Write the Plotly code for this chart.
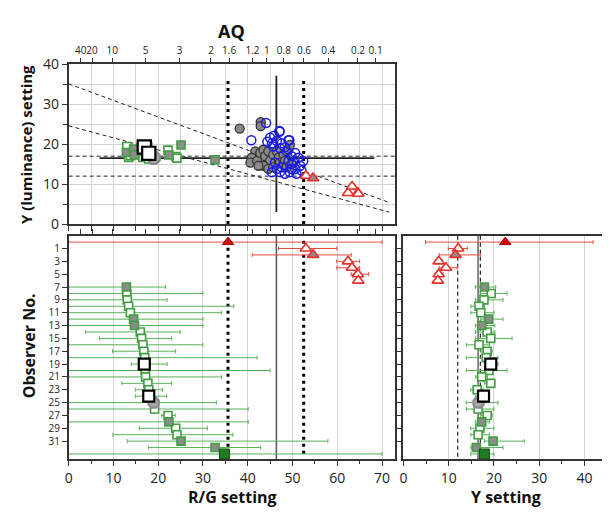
import plotly.graph_objects as go

W, H = 610, 515

# ---------------- data ----------------
# Protan-like observers (rows 1-6): R/G setting and Y setting with ranges
red_rows = [1, 2, 3, 4, 5, 6]
red_style = ["r", "rg", "r", "r", "r", "r"]
red_rg = [53.0, 54.6, 62.4, 63.3, 64.6, 64.7]
red_rg_lo = [46.9, 41.0, 59.9, 59.9, 63.1, 64.0]
red_rg_hi = [59.9, 63.1, 65.0, 65.0, 67.0, 65.4]
red_y = [12.1, 11.5, 7.8, 9.4, 7.8, 7.6]
red_y_lo = [9.9, 7.9, 7.0, 7.9, 7.0, 7.0]
red_y_hi = [14.1, 17.0, 8.6, 11.9, 8.8, 8.2]

# Deutan-like observers (rows 7-32)
green_rows = list(range(7, 33))
green_style = ["gg", "g", "g", "g", "g", "gg", "gg", "g", "g", "g", "g", "g", "k",
               "g", "g", "g", "g", "k", "c", "g", "g", "gg", "g", "g", "gg", "gg"]
green_rg = [12.9, 13.0, 13.1, 13.4, 13.8, 14.5, 14.7, 16.0, 16.3, 16.6, 16.8, 17.0, 16.9,
            17.1, 17.2, 17.7, 17.9, 17.9, 19.0, 19.2, 22.2, 22.4, 23.9, 24.2, 25.1, 32.7]
green_rg_lo = [0, 0, 0, 0, 0, 0, 0, 3.8, 6.9, 0, 9.8, 0, 14.0,
               0, 0, 11.9, 14.9, 14.9, 0, 0, 20.8, 0, 15.8, 9.9, 13.1, 17.8]
green_rg_hi = [21.6, 30.0, 22.0, 36.9, 34.1, 30.0, 30.0, 24.9, 23.0, 30.0, 23.9, 42.1, 22.0,
               45.0, 34.1, 23.0, 21.0, 21.9, 33.0, 40.1, 23.8, 40.1, 31.0, 36.7, 57.9, 42.9]
green_y = [17.9, 19.4, 17.8, 16.7, 17.1, 18.8, 17.3, 18.5, 19.3, 16.7, 18.5, 18.3, 19.3,
           18.9, 17.3, 19.3, 16.3, 17.7, 16.6, 16.5, 18.5, 17.3, 16.9, 16.5, 19.8, 16.1]
green_y_lo = [15.9, 17.0, 15.9, 14.9, 14.9, 17.1, 15.9, 15.9, 15.9, 13.9, 17.1, 13.9, 17.9,
              13.9, 16.0, 17.9, 14.9, 15.9, 13.9, 13.9, 17.1, 15.9, 14.9, 14.9, 17.9, 14.9]
green_y_hi = [20.4, 22.9, 22.0, 17.9, 20.0, 22.0, 20.2, 20.2, 24.0, 19.0, 19.6, 20.9, 20.9,
              22.9, 18.6, 20.2, 17.6, 18.6, 20.9, 20.0, 19.6, 19.0, 20.0, 19.0, 26.7, 22.0]

# Group means (row 0 = red group, row 33 = green group)
mean_rows = [0, 33]
mean_rg = [35.6, 34.8]
mean_rg_lo = [0.0, 0.0]
mean_rg_hi = [70.0, 70.0]
mean_y = [22.5, 17.9]
mean_y_lo = [4.9, 14.9]
mean_y_hi = [41.9, 20.0]

# Normal observers (top panel)
grey_rg = [38.2, 42.9, 42.9, 41.7, 40.9, 40.6, 42.1, 42.8, 43.5, 43.9, 44.6, 45.0, 45.7,
           46.5, 46.9, 47.2, 48.0, 48.3, 48.7, 49.1, 49.4, 49.8, 43.5, 44.6, 45.7, 42.4]
grey_y = [23.9, 25.5, 24.5, 18.2, 16.6, 15.4, 15.8, 17.8, 18.6, 17.0, 18.2, 15.8, 17.4,
          18.2, 16.6, 15.4, 17.4, 15.8, 14.2, 18.6, 19.8, 15.0, 14.6, 13.8, 14.2, 14.6]
blue_rg = [44.1, 40.8, 47.1, 49.3, 45.0, 45.9, 44.4, 45.4, 46.5, 47.6, 48.3, 50.6, 51.3,
           52.4, 51.7, 50.6, 49.4, 48.3, 47.2, 46.5, 50.2, 50.9, 47.6, 49.1, 46.1, 49.8,
           48.7, 47.2, 45.7, 52.0, 45.4, 49.8, 49.1, 47.1]
blue_y = [25.3, 21.0, 23.1, 21.0, 21.6, 22.1, 20.6, 20.2, 20.8, 20.2, 19.2, 17.8, 16.6,
          15.8, 14.6, 13.8, 13.0, 12.6, 13.0, 13.8, 15.4, 12.6, 14.2, 15.8, 15.4, 17.0,
          18.2, 19.0, 19.4, 13.4, 13.0, 13.8, 21.0, 23.3]

# Reference lines
normal_limits_rg = [35.6, 52.5]      # dotted verticals
normal_mean_rg = 46.4                # solid crosshair x
normal_mean_y = 16.5                 # solid crosshair y
cross_rg_span = [6.9, 68.3]
cross_y_span = [3.0, 37.1]
y_limits = [12.0, 17.0]              # dashed horizontals
diag_upper_y = [35.1, 5.4]           # dashed diagonal at rg = 0 and 71.6
diag_lower_y = [24.6, 3.0]
diag_rg = [0.0, 71.6]
dotted_top = 36.8

# AQ scale
aq_labels = ["40", "20", "10", "5", "3", "2", "1.6", "1.2", "1", "0.8", "0.6", "0.4", "0.2", "0.1"]
aq_values = [40, 20, 10, 5, 3, 2, 1.6, 1.2, 1, 0.8, 0.6, 0.4, 0.2, 0.1]
RG_MAX = 73.0
RG_AQ1 = 44.3
aq_pos = [RG_MAX / (1 + a * (RG_MAX - RG_AQ1) / RG_AQ1) for a in aq_values]

obs_ticks = list(range(1, 32, 2))

# ---------------- styles ----------------
GREEN = "#3f9e3f"
GREEN_BAR = "#58b058"
RED = "#e8302a"
RED_BAR = "#ea4a40"
BLUE = "#1a1ae6"
FONT = "Open Sans"

def marker_for(style, big=1.0):
    if style == "g":
        return dict(symbol="square", size=8 * big, color="white", line=dict(color=GREEN, width=1.6))
    if style == "gg":
        return dict(symbol="square", size=8 * big, color="#8c8c8c", line=dict(color=GREEN, width=1.6))
    if style == "k":
        return dict(symbol="square", size=11 * big, color="white", line=dict(color="black", width=2.2))
    if style == "c":
        return dict(symbol="octagon", size=11 * big, color="#a8a8a8", line=dict(color="#8a8a8a", width=2.2))
    if style == "r":
        return dict(symbol="triangle-up", size=10 * big, color="white", line=dict(color=RED, width=1.6))
    if style == "rg":
        return dict(symbol="triangle-up", size=10 * big, color="#8c8c8c", line=dict(color=RED, width=1.6))

fig = go.Figure()

def add_line(x, y, xa, ya, color="black", width=1, dash="solid"):
    fig.add_trace(go.Scatter(x=x, y=y, mode="lines", xaxis=xa, yaxis=ya, hoverinfo="skip",
                             line=dict(color=color, width=width, dash=dash), showlegend=False))

DOT = "3px,4px"
DASH = "4px,3px"

# invisible anchors so the AQ overlay axes get drawn
fig.add_trace(go.Scatter(x=[0, RG_MAX], y=[0, 0], mode="markers", xaxis="x2", yaxis="y",
                         marker=dict(opacity=0), hoverinfo="skip", showlegend=False))
fig.add_trace(go.Scatter(x=[0, RG_MAX], y=[0, 0], mode="markers", xaxis="x4", yaxis="y3",
                         marker=dict(opacity=0), hoverinfo="skip", showlegend=False))

# ---- top panel reference lines ----
for v in y_limits:
    add_line([0, RG_MAX], [v, v], "x", "y", "#222", 1, DASH)
add_line(diag_rg, diag_upper_y, "x", "y", "#222", 1, DASH)
add_line(diag_rg, diag_lower_y, "x", "y", "#222", 1, DASH)
for v in normal_limits_rg:
    add_line([v, v], [0, dotted_top], "x", "y", "black", 3, DOT)
add_line([normal_mean_rg, normal_mean_rg], cross_y_span, "x", "y", "#222", 1.8)
add_line(cross_rg_span, [normal_mean_y, normal_mean_y], "x", "y", "#222", 1.8)

# ---- bottom-left reference lines ----
add_line([normal_mean_rg, normal_mean_rg], [-1.0, 33.8], "x3", "y3", "#555", 1.5)
for v in normal_limits_rg:
    add_line([v, v], [-0.2, 33.4], "x3", "y3", "black", 3, DOT)

# ---- bottom-right reference lines ----
for v in y_limits:
    add_line([v, v], [-1.0, 33.8], "x5", "y5", "#222", 1.2, DASH)
add_line([normal_mean_y, normal_mean_y], [-1.0, 33.8], "x5", "y5", "#666", 1.5)

# ---- top panel: normals ----
fig.add_trace(go.Scatter(x=grey_rg, y=grey_y, mode="markers", xaxis="x", yaxis="y", showlegend=False,
                         marker=dict(symbol="circle", size=9, color="#8a8a8a", line=dict(color="#333", width=1.3))))
fig.add_trace(go.Scatter(x=blue_rg, y=blue_y, mode="markers", xaxis="x", yaxis="y", showlegend=False,
                         marker=dict(symbol="circle-open", size=9, color=BLUE, line=dict(width=1.5))))

# ---- observers ----
def add_group(rows, styles, rg, rg_lo, rg_hi, yv, y_lo, y_hi, barcolor):
    keys = []
    for s in styles:
        if s not in keys:
            keys.append(s)
    order = [k for k in ["g", "gg", "r", "rg", "c", "k"] if k in keys]
    for k in order:
        idx = [i for i, s in enumerate(styles) if s == k]
        R = [rows[i] for i in idx]
        X = [rg[i] for i in idx]
        XP = [rg_hi[i] - rg[i] for i in idx]
        XM = [rg[i] - rg_lo[i] for i in idx]
        Y = [yv[i] for i in idx]
        YP = [y_hi[i] - yv[i] for i in idx]
        YM = [yv[i] - y_lo[i] for i in idx]
        m = marker_for(k)
        fig.add_trace(go.Scatter(x=X, y=R, mode="markers", xaxis="x3", yaxis="y3", showlegend=False, marker=m,
                                 error_x=dict(type="data", array=XP, arrayminus=XM, color=barcolor,
                                              thickness=1, width=2)))
        fig.add_trace(go.Scatter(x=Y, y=R, mode="markers", xaxis="x5", yaxis="y5", showlegend=False, marker=m,
                                 error_x=dict(type="data", array=YP, arrayminus=YM, color=barcolor,
                                              thickness=1, width=2)))
        fig.add_trace(go.Scatter(x=X, y=Y, mode="markers", xaxis="x", yaxis="y", showlegend=False,
                                 marker=marker_for(k, 1.2 if k in ("k", "c") else 1.0)))

add_group(green_rows, green_style, green_rg, green_rg_lo, green_rg_hi, green_y, green_y_lo, green_y_hi, GREEN_BAR)
add_group(red_rows, red_style, red_rg, red_rg_lo, red_rg_hi, red_y, red_y_lo, red_y_hi, RED_BAR)

# group means
mean_markers = [dict(symbol="triangle-up", size=10, color="#d01010", line=dict(color="#a00000", width=1)),
                dict(symbol="square", size=10, color="#1f7a1f", line=dict(color="#145214", width=1))]
mean_bars = [RED_BAR, GREEN_BAR]
for i in range(2):
    fig.add_trace(go.Scatter(x=[mean_rg[i]], y=[mean_rows[i]], mode="markers", xaxis="x3", yaxis="y3",
                             showlegend=False, marker=mean_markers[i],
                             error_x=dict(type="data", array=[mean_rg_hi[i] - mean_rg[i]],
                                          arrayminus=[mean_rg[i] - mean_rg_lo[i]], color=mean_bars[i],
                                          thickness=1, width=2)))
    fig.add_trace(go.Scatter(x=[mean_y[i]], y=[mean_rows[i]], mode="markers", xaxis="x5", yaxis="y5",
                             showlegend=False, marker=mean_markers[i],
                             error_x=dict(type="data", array=[mean_y_hi[i] - mean_y[i]],
                                          arrayminus=[mean_y[i] - mean_y_lo[i]], color=mean_bars[i],
                                          thickness=1, width=2)))

# ---------------- layout ----------------
def dx(p):
    return p / W

def dy(p):
    return 1 - p / H

AX = "#333"
GRID = "#d4d4d4"
tickfont = dict(family=FONT, size=14, color="#222")

top_x = [dx(57), dx(386)]
bot_x = [dx(57), dx(386)]
right_x = [dx(394), dx(599)]
top_y = [dy(214), dy(48)]
bot_y = [dy(458), dy(226)]
obs_range = [33.8, -1.0]

fig.update_layout(
    width=W, height=H, margin=dict(l=0, r=0, t=0, b=0),
    paper_bgcolor="white", plot_bgcolor="white",
    font=dict(family=FONT, color="#222"),
    xaxis=dict(domain=top_x, anchor="y", range=[0, RG_MAX], dtick=5, showticklabels=False,
               ticks="outside", ticklen=5, tickcolor=AX, showgrid=True, gridcolor=GRID,
               showline=True, linecolor=AX, linewidth=1.5, mirror=True, zeroline=False),
    xaxis2=dict(overlaying="x", anchor="y", side="top", range=[0, RG_MAX], tickmode="array",
                tickvals=aq_pos, ticktext=aq_labels, ticks="outside", ticklen=5, tickcolor=AX,
                tickangle=0, tickfont=dict(family=FONT, size=10, color="#222"),
                showgrid=False, showline=False, zeroline=False),
    yaxis=dict(domain=top_y, anchor="x", range=[0, 40], dtick=10, ticks="outside", ticklen=5,
               tickcolor=AX, tickfont=tickfont, showgrid=True, gridcolor=GRID,
               minor=dict(dtick=5, showgrid=True, gridcolor=GRID, ticks="outside", ticklen=4, tickcolor=AX),
               showline=True, linecolor=AX, linewidth=1.5, mirror=True, zeroline=False),
    xaxis3=dict(domain=bot_x, anchor="y3", range=[0, RG_MAX], dtick=10, ticks="outside", ticklen=5,
                tickcolor=AX, tickfont=tickfont, showgrid=True, gridcolor=GRID,
                minor=dict(dtick=5, ticks="outside", ticklen=3, tickcolor=AX),
                showline=True, linecolor=AX, linewidth=1.5, mirror=True, zeroline=False),
    xaxis4=dict(overlaying="x3", anchor="y3", side="top", range=[0, RG_MAX], tickmode="array",
                tickvals=aq_pos, showticklabels=False, ticks="outside", ticklen=6, tickcolor=AX,
                showgrid=False, showline=False, zeroline=False),
    yaxis3=dict(domain=bot_y, anchor="x3", range=obs_range, tickmode="array", tickvals=obs_ticks,
                ticks="outside", ticklen=5, tickcolor=AX, tickfont=dict(family=FONT, size=10, color="#222"),
                showgrid=False, showline=True, linecolor=AX, linewidth=1.5, mirror=True, zeroline=False),
    xaxis5=dict(domain=right_x, anchor="y5", range=[0, 45], dtick=10, ticks="outside", ticklen=5,
                tickcolor=AX, tickfont=tickfont, showgrid=True, gridcolor=GRID,
                minor=dict(dtick=5, ticks="outside", ticklen=3, tickcolor=AX),
                showline=True, linecolor=AX, linewidth=1.5, mirror=True, zeroline=False),
    yaxis5=dict(domain=bot_y, anchor="x5", range=obs_range, tickmode="array", tickvals=obs_ticks,
                showticklabels=False, ticks="outside", ticklen=5, tickcolor=AX,
                showgrid=False, showline=True, linecolor=AX, linewidth=1.5, mirror=True, zeroline=False),
)

title_font = dict(family=FONT, size=16, color="#111")
annots = [
    dict(text="<b>AQ</b>", x=dx(221), y=dy(13), font=dict(family=FONT, size=18, color="#111")),
    dict(text="<b>Y (luminance) setting</b>", x=dx(14), y=dy(131), textangle=-90,
         font=dict(family=FONT, size=15, color="#111")),
    dict(text="<b>Observer No.</b>", x=dx(18), y=dy(340), textangle=-90, font=title_font),
    dict(text="<b>R/G setting</b>", x=dx(222), y=dy(497), font=title_font),
    dict(text="<b>Y setting</b>", x=dx(497), y=dy(497), font=title_font),
]
for a in annots:
    fig.add_annotation(xref="paper", yref="paper", showarrow=False, xanchor="center", yanchor="middle", **a)

fig.write_html("out.html")
